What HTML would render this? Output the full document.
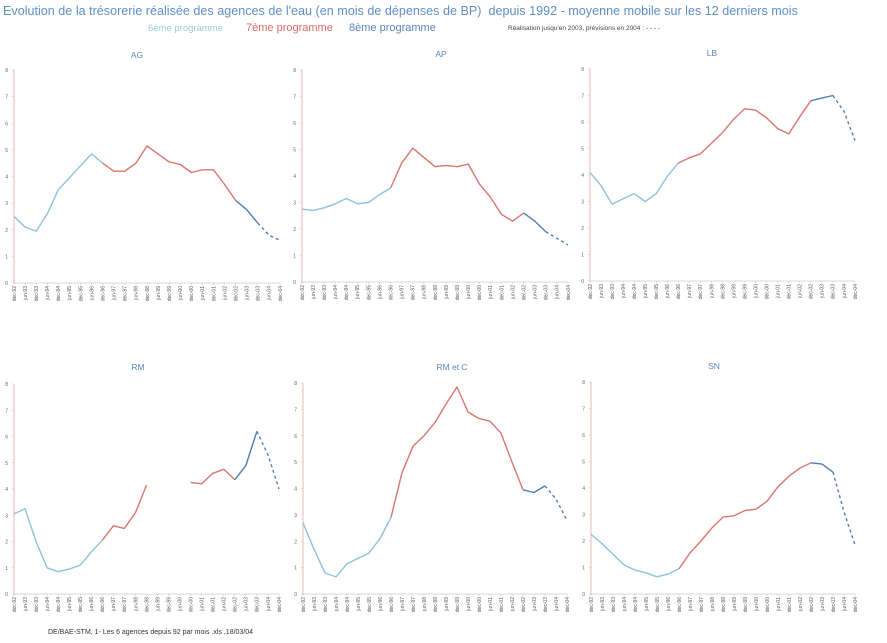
<!DOCTYPE html>
<html><head><meta charset="utf-8">
<style>
html,body{margin:0;padding:0;background:#fff;}
body{width:887px;height:643px;overflow:hidden;position:relative;font-family:"Liberation Sans",sans-serif;}
.t{position:absolute;white-space:nowrap;}
</style></head>
<body>
<div class="t" style="left:3px;top:4px;font-size:12.6px;color:#5f8fc4">Evolution de la trésorerie réalisée des agences de l'eau (en mois de dépenses de BP)&nbsp; depuis 1992 - moyenne mobile sur les 12 derniers mois</div>
<div class="t" style="left:148px;top:23px;font-size:9.5px;color:#9cc8df">6ème programme</div>
<div class="t" style="left:246px;top:22px;font-size:11px;color:#d96d66">7ème programme</div>
<div class="t" style="left:349px;top:22px;font-size:11px;color:#5a86bd">8ème programme</div>
<div class="t" style="left:508px;top:25px;font-size:6.5px;color:#444">Réalisation jusqu'en 2003, prévisions en 2004 : - - - -</div>
<div class="t" style="left:48px;top:629px;font-size:7px;color:#333">DE/BAE-STM, 1- Les 6 agences depuis 92 par mois .xls ,18/03/04</div>
<svg id="svg" width="887" height="643" style="position:absolute;left:0;top:0"></svg>
<script>
const tickLabels=["dec-92","jun-93","dec-93","jun-94","dec-94","jun-95","dec-95","jun-96","dec-96","jun-97","dec-97","jun-98","dec-98","jun-99","dec-99","jun-00","dec-00","jun-01","dec-01","jun-02","dec-02","jun-03","dec-03","jun-04","dec-04"];
const yTicks=[0,1,2,3,4,5,6,7,8];
const agValues=[2.5,2.1,1.95,2.6,3.5,3.95,4.4,4.85,4.5,4.2,4.2,4.5,5.15,4.85,4.55,4.45,4.15,4.25,4.25,3.7,3.1,2.75,2.25,1.8,1.6];
const apValues=[2.75,2.7,2.8,2.95,3.15,2.95,3.0,3.3,3.55,4.5,5.05,4.7,4.35,4.4,4.35,4.45,3.7,3.2,2.55,2.3,2.6,2.3,1.9,1.65,1.4];
const lbValues=[4.1,3.6,2.9,3.1,3.3,3.0,3.3,3.95,4.45,4.65,4.8,5.2,5.6,6.1,6.5,6.45,6.15,5.75,5.55,6.2,6.8,6.9,7.0,6.4,5.3];
const rmValues=[3.05,3.25,2.0,1.0,0.85,0.95,1.1,1.6,2.05,2.6,2.5,3.1,4.15,null,null,null,4.25,4.2,4.6,4.75,4.35,4.9,6.2,5.3,4.0];
const rmcValues=[2.7,1.7,0.8,0.65,1.15,1.35,1.55,2.1,2.9,4.6,5.6,6.0,6.5,7.2,7.85,6.9,6.65,6.55,6.1,5.0,3.95,3.85,4.1,3.6,2.8];
const snValues=[2.25,1.9,1.5,1.1,0.9,0.8,0.65,0.75,0.95,1.55,2.0,2.5,2.9,2.95,3.15,3.2,3.5,4.05,4.45,4.75,4.95,4.9,4.6,3.1,1.85];
const panels=[
 {name:"AG",v:agValues,x0:14,x1:280,y0:70,y1:283,tx:137,ty:58},
 {name:"AP",v:apValues,x0:302,x1:568,y0:70,y1:282,tx:441,ty:57},
 {name:"LB",v:lbValues,x0:590,x1:855,y0:69,y1:281,tx:712,ty:56},
 {name:"RM",v:rmValues,x0:14,x1:279,y0:384,y1:594,tx:138,ty:370},
 {name:"RM et C",v:rmcValues,x0:303,x1:567,y0:383,y1:594,tx:452,ty:370},
 {name:"SN",v:snValues,x0:591,x1:855,y0:382,y1:594,tx:714,ty:369}];
const NS="http://www.w3.org/2000/svg";
const svg=document.getElementById('svg');
function mk(tag,attrs,parent){const e=document.createElementNS(NS,tag);for(const k in attrs)e.setAttribute(k,attrs[k]);(parent||svg).appendChild(e);return e;}
const segs=[{a:0,b:8,c:"#8cc3dc",d:""},{a:8,b:20,c:"#d9766f",d:""},{a:20,b:22,c:"#4f7db5",d:""},{a:22,b:24,c:"#4f7db5",d:"3,3"}];
panels.forEach(p=>{
 const g=mk('g',{});
 
 
 const xs=i=>p.x0+(p.x1-p.x0)*i/(tickLabels.length-1);
 const ys=v=>p.y1-(p.y1-p.y0)*v/8;
 const t=mk('text',{x:p.tx,y:p.ty,'font-size':8.5,fill:'#5a86bd','text-anchor':'middle','font-family':'Liberation Sans, sans-serif'},g);
 t.textContent=p.name;
 
 
 const ya=mk('line',{x1:p.x0,y1:p.y0,x2:p.x0,y2:p.y1,stroke:'#e8b8b4','stroke-width':1},g);
 
 
 const xa=mk('line',{x1:p.x0,y1:p.y1,x2:p.x1,y2:p.y1,stroke:'#ccc','stroke-width':0.8},g);
 
 
 yTicks.forEach(v=>{
  const l=mk('text',{x:p.x0-6,y:ys(v)+2,'font-size':5,fill:'#666','text-anchor':'end'},g);
  l.textContent=v;
  
  
  mk('line',{x1:p.x0-2,y1:ys(v),x2:p.x0,y2:ys(v),stroke:'#bbb','stroke-width':0.5},g);
 });
 tickLabels.forEach((s,i)=>{
  const x=xs(i);
  mk('line',{x1:x,y1:p.y1,x2:x,y2:p.y1+2,stroke:'#bbb','stroke-width':0.5},g);
  const l=mk('text',{x:0,y:0,'font-size':5,fill:'#555','text-anchor':'end',transform:`translate(${x+1.8},${p.y1+3}) rotate(-90)`},g);
  l.textContent=s;
  
  
 });
 segs.forEach(sg=>{
  let d="",pen=false;
  for(let i=sg.a;i<=sg.b;i++){
   const v=p.v[i];
   if(v==null){pen=false;continue;}
   d+=(pen?"L":"M")+xs(i).toFixed(1)+","+ys(v).toFixed(1);pen=true;
  }
  if(!d)return;
  const path=mk('path',{d:d,fill:'none',stroke:sg.c,'stroke-width':1.4,'stroke-dasharray':sg.d,'stroke-linejoin':'round'},g);
  
  
 });
});
</script>
</body></html>
